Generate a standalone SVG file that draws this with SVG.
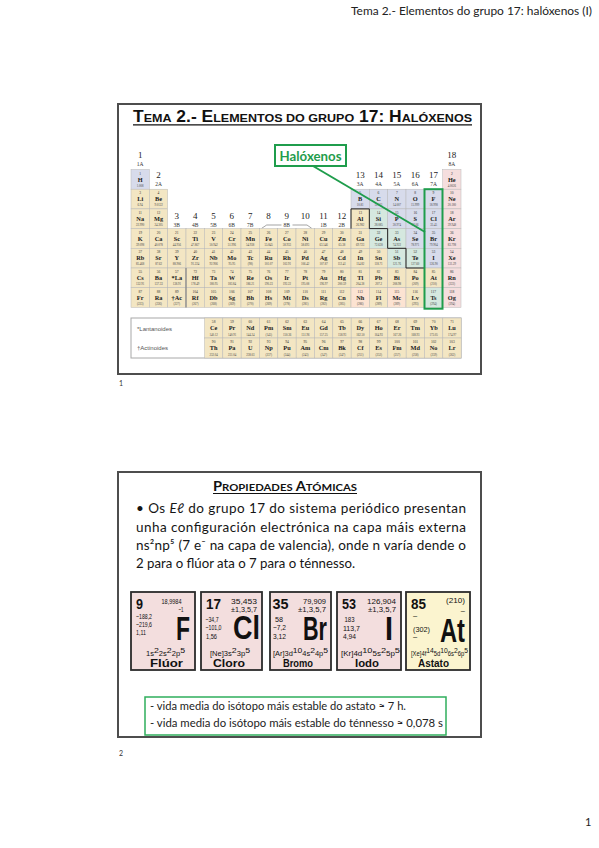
<svg xmlns="http://www.w3.org/2000/svg" width="599" height="848" viewBox="0 0 599 848">
<style>
.fr{fill:#fff;stroke:#4d4d4d;stroke-width:2}
.t,.b,.g,.p,.o{stroke:#b8b8b8;stroke-width:.5}
.t{fill:#f3e6c3}.b{fill:#d7dbeb}.g{fill:#d5e8df}.p{fill:#f5dede}.o{fill:#fce3d2}
.n{font:3.6px "Liberation Serif",serif;text-anchor:middle;fill:#333}
.s{font:bold 6.3px "Liberation Serif",serif;text-anchor:middle;fill:#1a1a1a}
.m{font:3px "Liberation Serif",serif;text-anchor:middle;fill:#444}
.gn{font:9px "Liberation Serif",serif;text-anchor:middle;fill:#222}
.gl{font:5.5px "Liberation Serif",serif;text-anchor:middle;fill:#333}
.lab{font:6px "Liberation Sans",sans-serif;fill:#555}
.hdr{font:11px Lato,"Liberation Sans",sans-serif;fill:#222}
.bt{font:13.5px Lato,"Liberation Sans",sans-serif;fill:#151515}
.gr{fill:none;stroke:#1f9d4c;stroke-width:2}
.card{stroke:#2b2b2b;stroke-width:1.8}
.cz{font:bold 14px "Liberation Sans",sans-serif;fill:#111}
.cm{font:7.5px "Liberation Sans",sans-serif;fill:#111;text-anchor:end}
.cl{font:7.5px "Liberation Sans",sans-serif;fill:#111}
.cs{font:bold 33px "Liberation Sans",sans-serif;fill:#111}
.ce{font:6.5px "Liberation Sans",sans-serif;fill:#111}
.sp{font-size:7.5px}
.cn{font:bold 10px "Liberation Sans",sans-serif;fill:#111;text-anchor:middle}
.nt{font:11.5px Lato,"Liberation Sans",sans-serif;fill:#222}
.pg{font:7px Lato,"Liberation Sans",sans-serif;fill:#333}
</style>
<rect width="599" height="848" fill="#fff"/>
<text class="hdr" x="351" y="15" textLength="241" lengthAdjust="spacingAndGlyphs">Tema 2.- Elementos do grupo 17: halóxenos (I)</text>

<g id="slide1">
<rect class="fr" x="118" y="104" width="363" height="270"/>
<text x="133" y="122" textLength="339" lengthAdjust="spacingAndGlyphs" style="font:bold 16px 'Liberation Sans',sans-serif;fill:#111">T<tspan font-size="11.5">EMA</tspan> 2.- E<tspan font-size="11.5">LEMENTOS DO GRUPO</tspan> 17: H<tspan font-size="11.5">ALÓXENOS</tspan></text>
<line x1="133" y1="124.8" x2="472" y2="124.8" stroke="#111" stroke-width="1.3"/>

<g id="group-labels">
<text class="gn" x="140.2" y="157.5">1</text><text class="gl" x="140.2" y="166">1A</text>
<text class="gn" x="158.5" y="177.5">2</text><text class="gl" x="158.5" y="186">2A</text>
<text class="gn" x="176.8" y="219">3</text><text class="gl" x="176.8" y="226.5">3B</text>
<text class="gn" x="195.2" y="219">4</text><text class="gl" x="195.2" y="226.5">4B</text>
<text class="gn" x="213.5" y="219">5</text><text class="gl" x="213.5" y="226.5">5B</text>
<text class="gn" x="231.8" y="219">6</text><text class="gl" x="231.8" y="226.5">6B</text>
<text class="gn" x="250.2" y="219">7</text><text class="gl" x="250.2" y="226.5">7B</text>
<text class="gn" x="268.5" y="219">8</text>
<text class="gn" x="286.8" y="219">9</text><text class="gl" x="286.8" y="226.5">8B</text>
<text class="gn" x="305.2" y="219">10</text>
<path d="M261.7,228.3 L266.7,225 H281.5 M292.5,225 H307 L311.7,228.3" fill="none" stroke="#666" stroke-width=".6"/>
<text class="gn" x="323.5" y="219">11</text><text class="gl" x="323.5" y="226.5">1B</text>
<text class="gn" x="341.8" y="219">12</text><text class="gl" x="341.8" y="226.5">2B</text>
<text class="gn" x="360.2" y="177.5">13</text><text class="gl" x="360.2" y="186">3A</text>
<text class="gn" x="378.5" y="177.5">14</text><text class="gl" x="378.5" y="186">4A</text>
<text class="gn" x="396.8" y="177.5">15</text><text class="gl" x="396.8" y="186">5A</text>
<text class="gn" x="415.2" y="177.5">16</text><text class="gl" x="415.2" y="186">6A</text>
<text class="gn" x="433.5" y="177.5">17</text><text class="gl" x="433.5" y="186">7A</text>
<text class="gn" x="451.8" y="157.5">18</text><text class="gl" x="451.8" y="166">8A</text>
</g>

<g id="period1" transform="translate(0,169.5)">
<rect class="b" x="131" width="18.33" height="19.7"/><text class="n" x="140.2" y="5.2">1</text><text class="s" x="140.2" y="12">H</text><text class="m" x="140.2" y="17.2">1.008</text>
<rect class="p" x="442.67" width="18.33" height="19.7"/><text class="n" x="451.8" y="5.2">2</text><text class="s" x="451.8" y="12">He</text><text class="m" x="451.8" y="17.2">4.0026</text>
</g>
<g id="period2" transform="translate(0,189.2)">
<rect class="t" x="131" width="18.33" height="19.7"/><text class="n" x="140.2" y="5.2">3</text><text class="s" x="140.2" y="12">Li</text><text class="m" x="140.2" y="17.2">6.94</text>
<rect class="t" x="149.33" width="18.33" height="19.7"/><text class="n" x="158.5" y="5.2">4</text><text class="s" x="158.5" y="12">Be</text><text class="m" x="158.5" y="17.2">9.0122</text>
<rect class="b" x="351" width="18.33" height="19.7"/><text class="n" x="360.2" y="5.2">5</text><text class="s" x="360.2" y="12">B</text><text class="m" x="360.2" y="17.2">10.81</text>
<rect class="b" x="369.33" width="18.33" height="19.7"/><text class="n" x="378.5" y="5.2">6</text><text class="s" x="378.5" y="12">C</text><text class="m" x="378.5" y="17.2">12.011</text>
<rect class="b" x="387.67" width="18.33" height="19.7"/><text class="n" x="396.8" y="5.2">7</text><text class="s" x="396.8" y="12">N</text><text class="m" x="396.8" y="17.2">14.007</text>
<rect class="b" x="406" width="18.33" height="19.7"/><text class="n" x="415.2" y="5.2">8</text><text class="s" x="415.2" y="12">O</text><text class="m" x="415.2" y="17.2">15.999</text>
<rect class="b" x="424.33" width="18.33" height="19.7"/><text class="n" x="433.5" y="5.2">9</text><text class="s" x="433.5" y="12">F</text><text class="m" x="433.5" y="17.2">18.998</text>
<rect class="p" x="442.67" width="18.33" height="19.7"/><text class="n" x="451.8" y="5.2">10</text><text class="s" x="451.8" y="12">Ne</text><text class="m" x="451.8" y="17.2">20.180</text>
</g>
<g id="period3" transform="translate(0,208.9)">
<rect class="t" x="131" width="18.33" height="19.7"/><text class="n" x="140.2" y="5.2">11</text><text class="s" x="140.2" y="12">Na</text><text class="m" x="140.2" y="17.2">22.990</text>
<rect class="t" x="149.33" width="18.33" height="19.7"/><text class="n" x="158.5" y="5.2">12</text><text class="s" x="158.5" y="12">Mg</text><text class="m" x="158.5" y="17.2">24.305</text>
<rect class="t" x="351" width="18.33" height="19.7"/><text class="n" x="360.2" y="5.2">13</text><text class="s" x="360.2" y="12">Al</text><text class="m" x="360.2" y="17.2">26.982</text>
<rect class="g" x="369.33" width="18.33" height="19.7"/><text class="n" x="378.5" y="5.2">14</text><text class="s" x="378.5" y="12">Si</text><text class="m" x="378.5" y="17.2">28.085</text>
<rect class="b" x="387.67" width="18.33" height="19.7"/><text class="n" x="396.8" y="5.2">15</text><text class="s" x="396.8" y="12">P</text><text class="m" x="396.8" y="17.2">30.974</text>
<rect class="b" x="406" width="18.33" height="19.7"/><text class="n" x="415.2" y="5.2">16</text><text class="s" x="415.2" y="12">S</text><text class="m" x="415.2" y="17.2">32.06</text>
<rect class="b" x="424.33" width="18.33" height="19.7"/><text class="n" x="433.5" y="5.2">17</text><text class="s" x="433.5" y="12">Cl</text><text class="m" x="433.5" y="17.2">35.45</text>
<rect class="p" x="442.67" width="18.33" height="19.7"/><text class="n" x="451.8" y="5.2">18</text><text class="s" x="451.8" y="12">Ar</text><text class="m" x="451.8" y="17.2">39.948</text>
</g>
<g id="period4" transform="translate(0,228.6)">
<rect class="t" x="131" width="18.33" height="19.7"/><text class="n" x="140.2" y="5.2">19</text><text class="s" x="140.2" y="12">K</text><text class="m" x="140.2" y="17.2">39.098</text>
<rect class="t" x="149.33" width="18.33" height="19.7"/><text class="n" x="158.5" y="5.2">20</text><text class="s" x="158.5" y="12">Ca</text><text class="m" x="158.5" y="17.2">40.078</text>
<rect class="t" x="167.67" width="18.33" height="19.7"/><text class="n" x="176.8" y="5.2">21</text><text class="s" x="176.8" y="12">Sc</text><text class="m" x="176.8" y="17.2">44.956</text>
<rect class="t" x="186" width="18.33" height="19.7"/><text class="n" x="195.2" y="5.2">22</text><text class="s" x="195.2" y="12">Ti</text><text class="m" x="195.2" y="17.2">47.867</text>
<rect class="t" x="204.33" width="18.33" height="19.7"/><text class="n" x="213.5" y="5.2">23</text><text class="s" x="213.5" y="12">V</text><text class="m" x="213.5" y="17.2">50.942</text>
<rect class="t" x="222.67" width="18.33" height="19.7"/><text class="n" x="231.8" y="5.2">24</text><text class="s" x="231.8" y="12">Cr</text><text class="m" x="231.8" y="17.2">51.996</text>
<rect class="t" x="241" width="18.33" height="19.7"/><text class="n" x="250.2" y="5.2">25</text><text class="s" x="250.2" y="12">Mn</text><text class="m" x="250.2" y="17.2">54.938</text>
<rect class="t" x="259.33" width="18.33" height="19.7"/><text class="n" x="268.5" y="5.2">26</text><text class="s" x="268.5" y="12">Fe</text><text class="m" x="268.5" y="17.2">55.845</text>
<rect class="t" x="277.67" width="18.33" height="19.7"/><text class="n" x="286.8" y="5.2">27</text><text class="s" x="286.8" y="12">Co</text><text class="m" x="286.8" y="17.2">58.933</text>
<rect class="t" x="296" width="18.33" height="19.7"/><text class="n" x="305.2" y="5.2">28</text><text class="s" x="305.2" y="12">Ni</text><text class="m" x="305.2" y="17.2">58.693</text>
<rect class="t" x="314.33" width="18.33" height="19.7"/><text class="n" x="323.5" y="5.2">29</text><text class="s" x="323.5" y="12">Cu</text><text class="m" x="323.5" y="17.2">63.546</text>
<rect class="t" x="332.67" width="18.33" height="19.7"/><text class="n" x="341.8" y="5.2">30</text><text class="s" x="341.8" y="12">Zn</text><text class="m" x="341.8" y="17.2">65.38</text>
<rect class="t" x="351" width="18.33" height="19.7"/><text class="n" x="360.2" y="5.2">31</text><text class="s" x="360.2" y="12">Ga</text><text class="m" x="360.2" y="17.2">69.723</text>
<rect class="g" x="369.33" width="18.33" height="19.7"/><text class="n" x="378.5" y="5.2">32</text><text class="s" x="378.5" y="12">Ge</text><text class="m" x="378.5" y="17.2">72.630</text>
<rect class="g" x="387.67" width="18.33" height="19.7"/><text class="n" x="396.8" y="5.2">33</text><text class="s" x="396.8" y="12">As</text><text class="m" x="396.8" y="17.2">74.922</text>
<rect class="b" x="406" width="18.33" height="19.7"/><text class="n" x="415.2" y="5.2">34</text><text class="s" x="415.2" y="12">Se</text><text class="m" x="415.2" y="17.2">78.971</text>
<rect class="b" x="424.33" width="18.33" height="19.7"/><text class="n" x="433.5" y="5.2">35</text><text class="s" x="433.5" y="12">Br</text><text class="m" x="433.5" y="17.2">79.904</text>
<rect class="p" x="442.67" width="18.33" height="19.7"/><text class="n" x="451.8" y="5.2">36</text><text class="s" x="451.8" y="12">Kr</text><text class="m" x="451.8" y="17.2">83.798</text>
</g>
<g id="period5" transform="translate(0,248.3)">
<rect class="t" x="131" width="18.33" height="19.7"/><text class="n" x="140.2" y="5.2">37</text><text class="s" x="140.2" y="12">Rb</text><text class="m" x="140.2" y="17.2">85.468</text>
<rect class="t" x="149.33" width="18.33" height="19.7"/><text class="n" x="158.5" y="5.2">38</text><text class="s" x="158.5" y="12">Sr</text><text class="m" x="158.5" y="17.2">87.62</text>
<rect class="t" x="167.67" width="18.33" height="19.7"/><text class="n" x="176.8" y="5.2">39</text><text class="s" x="176.8" y="12">Y</text><text class="m" x="176.8" y="17.2">88.906</text>
<rect class="t" x="186" width="18.33" height="19.7"/><text class="n" x="195.2" y="5.2">40</text><text class="s" x="195.2" y="12">Zr</text><text class="m" x="195.2" y="17.2">91.224</text>
<rect class="t" x="204.33" width="18.33" height="19.7"/><text class="n" x="213.5" y="5.2">41</text><text class="s" x="213.5" y="12">Nb</text><text class="m" x="213.5" y="17.2">92.906</text>
<rect class="t" x="222.67" width="18.33" height="19.7"/><text class="n" x="231.8" y="5.2">42</text><text class="s" x="231.8" y="12">Mo</text><text class="m" x="231.8" y="17.2">95.95</text>
<rect class="t" x="241" width="18.33" height="19.7"/><text class="n" x="250.2" y="5.2">43</text><text class="s" x="250.2" y="12">Tc</text><text class="m" x="250.2" y="17.2">(98)</text>
<rect class="t" x="259.33" width="18.33" height="19.7"/><text class="n" x="268.5" y="5.2">44</text><text class="s" x="268.5" y="12">Ru</text><text class="m" x="268.5" y="17.2">101.07</text>
<rect class="t" x="277.67" width="18.33" height="19.7"/><text class="n" x="286.8" y="5.2">45</text><text class="s" x="286.8" y="12">Rh</text><text class="m" x="286.8" y="17.2">102.91</text>
<rect class="t" x="296" width="18.33" height="19.7"/><text class="n" x="305.2" y="5.2">46</text><text class="s" x="305.2" y="12">Pd</text><text class="m" x="305.2" y="17.2">106.42</text>
<rect class="t" x="314.33" width="18.33" height="19.7"/><text class="n" x="323.5" y="5.2">47</text><text class="s" x="323.5" y="12">Ag</text><text class="m" x="323.5" y="17.2">107.87</text>
<rect class="t" x="332.67" width="18.33" height="19.7"/><text class="n" x="341.8" y="5.2">48</text><text class="s" x="341.8" y="12">Cd</text><text class="m" x="341.8" y="17.2">112.41</text>
<rect class="t" x="351" width="18.33" height="19.7"/><text class="n" x="360.2" y="5.2">49</text><text class="s" x="360.2" y="12">In</text><text class="m" x="360.2" y="17.2">114.82</text>
<rect class="t" x="369.33" width="18.33" height="19.7"/><text class="n" x="378.5" y="5.2">50</text><text class="s" x="378.5" y="12">Sn</text><text class="m" x="378.5" y="17.2">118.71</text>
<rect class="g" x="387.67" width="18.33" height="19.7"/><text class="n" x="396.8" y="5.2">51</text><text class="s" x="396.8" y="12">Sb</text><text class="m" x="396.8" y="17.2">121.76</text>
<rect class="g" x="406" width="18.33" height="19.7"/><text class="n" x="415.2" y="5.2">52</text><text class="s" x="415.2" y="12">Te</text><text class="m" x="415.2" y="17.2">127.60</text>
<rect class="b" x="424.33" width="18.33" height="19.7"/><text class="n" x="433.5" y="5.2">53</text><text class="s" x="433.5" y="12">I</text><text class="m" x="433.5" y="17.2">126.90</text>
<rect class="p" x="442.67" width="18.33" height="19.7"/><text class="n" x="451.8" y="5.2">54</text><text class="s" x="451.8" y="12">Xe</text><text class="m" x="451.8" y="17.2">131.29</text>
</g>
<g id="period6" transform="translate(0,268)">
<rect class="t" x="131" width="18.33" height="19.7"/><text class="n" x="140.2" y="5.2">55</text><text class="s" x="140.2" y="12">Cs</text><text class="m" x="140.2" y="17.2">132.91</text>
<rect class="t" x="149.33" width="18.33" height="19.7"/><text class="n" x="158.5" y="5.2">56</text><text class="s" x="158.5" y="12">Ba</text><text class="m" x="158.5" y="17.2">137.33</text>
<rect class="t" x="167.67" width="18.33" height="19.7"/><text class="n" x="176.8" y="5.2">57</text><text class="s" x="176.8" y="12">*La</text><text class="m" x="176.8" y="17.2">138.91</text>
<rect class="t" x="186" width="18.33" height="19.7"/><text class="n" x="195.2" y="5.2">72</text><text class="s" x="195.2" y="12">Hf</text><text class="m" x="195.2" y="17.2">178.49</text>
<rect class="t" x="204.33" width="18.33" height="19.7"/><text class="n" x="213.5" y="5.2">73</text><text class="s" x="213.5" y="12">Ta</text><text class="m" x="213.5" y="17.2">180.95</text>
<rect class="t" x="222.67" width="18.33" height="19.7"/><text class="n" x="231.8" y="5.2">74</text><text class="s" x="231.8" y="12">W</text><text class="m" x="231.8" y="17.2">183.84</text>
<rect class="t" x="241" width="18.33" height="19.7"/><text class="n" x="250.2" y="5.2">75</text><text class="s" x="250.2" y="12">Re</text><text class="m" x="250.2" y="17.2">186.21</text>
<rect class="t" x="259.33" width="18.33" height="19.7"/><text class="n" x="268.5" y="5.2">76</text><text class="s" x="268.5" y="12">Os</text><text class="m" x="268.5" y="17.2">190.23</text>
<rect class="t" x="277.67" width="18.33" height="19.7"/><text class="n" x="286.8" y="5.2">77</text><text class="s" x="286.8" y="12">Ir</text><text class="m" x="286.8" y="17.2">192.22</text>
<rect class="t" x="296" width="18.33" height="19.7"/><text class="n" x="305.2" y="5.2">78</text><text class="s" x="305.2" y="12">Pt</text><text class="m" x="305.2" y="17.2">195.08</text>
<rect class="t" x="314.33" width="18.33" height="19.7"/><text class="n" x="323.5" y="5.2">79</text><text class="s" x="323.5" y="12">Au</text><text class="m" x="323.5" y="17.2">196.97</text>
<rect class="t" x="332.67" width="18.33" height="19.7"/><text class="n" x="341.8" y="5.2">80</text><text class="s" x="341.8" y="12">Hg</text><text class="m" x="341.8" y="17.2">200.59</text>
<rect class="t" x="351" width="18.33" height="19.7"/><text class="n" x="360.2" y="5.2">81</text><text class="s" x="360.2" y="12">Tl</text><text class="m" x="360.2" y="17.2">204.38</text>
<rect class="t" x="369.33" width="18.33" height="19.7"/><text class="n" x="378.5" y="5.2">82</text><text class="s" x="378.5" y="12">Pb</text><text class="m" x="378.5" y="17.2">207.2</text>
<rect class="t" x="387.67" width="18.33" height="19.7"/><text class="n" x="396.8" y="5.2">83</text><text class="s" x="396.8" y="12">Bi</text><text class="m" x="396.8" y="17.2">208.98</text>
<rect class="t" x="406" width="18.33" height="19.7"/><text class="n" x="415.2" y="5.2">84</text><text class="s" x="415.2" y="12">Po</text><text class="m" x="415.2" y="17.2">(209)</text>
<rect class="t" x="424.33" width="18.33" height="19.7"/><text class="n" x="433.5" y="5.2">85</text><text class="s" x="433.5" y="12">At</text><text class="m" x="433.5" y="17.2">(210)</text>
<rect class="p" x="442.67" width="18.33" height="19.7"/><text class="n" x="451.8" y="5.2">86</text><text class="s" x="451.8" y="12">Rn</text><text class="m" x="451.8" y="17.2">(222)</text>
</g>
<g id="period7" transform="translate(0,287.7)">
<rect class="t" x="131" width="18.33" height="19.7"/><text class="n" x="140.2" y="5.2">87</text><text class="s" x="140.2" y="12">Fr</text><text class="m" x="140.2" y="17.2">(223)</text>
<rect class="t" x="149.33" width="18.33" height="19.7"/><text class="n" x="158.5" y="5.2">88</text><text class="s" x="158.5" y="12">Ra</text><text class="m" x="158.5" y="17.2">(226)</text>
<rect class="t" x="167.67" width="18.33" height="19.7"/><text class="n" x="176.8" y="5.2">89</text><text class="s" x="176.8" y="12">†Ac</text><text class="m" x="176.8" y="17.2">(227)</text>
<rect class="t" x="186" width="18.33" height="19.7"/><text class="n" x="195.2" y="5.2">104</text><text class="s" x="195.2" y="12">Rf</text><text class="m" x="195.2" y="17.2">(267)</text>
<rect class="t" x="204.33" width="18.33" height="19.7"/><text class="n" x="213.5" y="5.2">105</text><text class="s" x="213.5" y="12">Db</text><text class="m" x="213.5" y="17.2">(268)</text>
<rect class="t" x="222.67" width="18.33" height="19.7"/><text class="n" x="231.8" y="5.2">106</text><text class="s" x="231.8" y="12">Sg</text><text class="m" x="231.8" y="17.2">(269)</text>
<rect class="t" x="241" width="18.33" height="19.7"/><text class="n" x="250.2" y="5.2">107</text><text class="s" x="250.2" y="12">Bh</text><text class="m" x="250.2" y="17.2">(270)</text>
<rect class="t" x="259.33" width="18.33" height="19.7"/><text class="n" x="268.5" y="5.2">108</text><text class="s" x="268.5" y="12">Hs</text><text class="m" x="268.5" y="17.2">(269)</text>
<rect class="t" x="277.67" width="18.33" height="19.7"/><text class="n" x="286.8" y="5.2">109</text><text class="s" x="286.8" y="12">Mt</text><text class="m" x="286.8" y="17.2">(278)</text>
<rect class="t" x="296" width="18.33" height="19.7"/><text class="n" x="305.2" y="5.2">110</text><text class="s" x="305.2" y="12">Ds</text><text class="m" x="305.2" y="17.2">(281)</text>
<rect class="t" x="314.33" width="18.33" height="19.7"/><text class="n" x="323.5" y="5.2">111</text><text class="s" x="323.5" y="12">Rg</text><text class="m" x="323.5" y="17.2">(282)</text>
<rect class="t" x="332.67" width="18.33" height="19.7"/><text class="n" x="341.8" y="5.2">112</text><text class="s" x="341.8" y="12">Cn</text><text class="m" x="341.8" y="17.2">(285)</text>
<rect class="o" x="351" width="18.33" height="19.7"/><text class="n" x="360.2" y="5.2">113</text><text class="s" x="360.2" y="12">Nh</text><text class="m" x="360.2" y="17.2">(286)</text>
<rect class="t" x="369.33" width="18.33" height="19.7"/><text class="n" x="378.5" y="5.2">114</text><text class="s" x="378.5" y="12">Fl</text><text class="m" x="378.5" y="17.2">(289)</text>
<rect class="o" x="387.67" width="18.33" height="19.7"/><text class="n" x="396.8" y="5.2">115</text><text class="s" x="396.8" y="12">Mc</text><text class="m" x="396.8" y="17.2">(289)</text>
<rect class="t" x="406" width="18.33" height="19.7"/><text class="n" x="415.2" y="5.2">116</text><text class="s" x="415.2" y="12">Lv</text><text class="m" x="415.2" y="17.2">(293)</text>
<rect class="g" x="424.33" width="18.33" height="19.7"/><text class="n" x="433.5" y="5.2">117</text><text class="s" x="433.5" y="12">Ts</text><text class="m" x="433.5" y="17.2">(294)</text>
<rect class="p" x="442.67" width="18.33" height="19.7"/><text class="n" x="451.8" y="5.2">118</text><text class="s" x="451.8" y="12">Og</text><text class="m" x="451.8" y="17.2">(294)</text>
</g>
<path d="M351,228.6 V208.9 H369.33 V228.6 H387.67 V248.3 H406 V268 H424.33" fill="none" stroke="#222" stroke-width="1"/>
<line x1="186" y1="268" x2="186" y2="307.4" stroke="#8a8a8a" stroke-width="1.3"/>

<g id="f-block">
<rect x="131" y="318" width="330" height="40" fill="#fff" stroke="#a8a8a8" stroke-width="1"/>
<text class="lab" x="137" y="331">*Lantanoides</text>
<text class="lab" x="137" y="349.5">†Actinoides</text>
<g transform="translate(0,318)">
<rect class="t" x="204.5" width="18.33" height="20"/><text class="n" x="213.67" y="5.3">58</text><text class="s" x="213.67" y="12.2">Ce</text><text class="m" x="213.67" y="17.5">140.12</text>
<rect class="t" x="222.83" width="18.33" height="20"/><text class="n" x="232" y="5.3">59</text><text class="s" x="232" y="12.2">Pr</text><text class="m" x="232" y="17.5">140.91</text>
<rect class="t" x="241.17" width="18.33" height="20"/><text class="n" x="250.33" y="5.3">60</text><text class="s" x="250.33" y="12.2">Nd</text><text class="m" x="250.33" y="17.5">144.24</text>
<rect class="t" x="259.5" width="18.33" height="20"/><text class="n" x="268.67" y="5.3">61</text><text class="s" x="268.67" y="12.2">Pm</text><text class="m" x="268.67" y="17.5">(145)</text>
<rect class="t" x="277.83" width="18.33" height="20"/><text class="n" x="287" y="5.3">62</text><text class="s" x="287" y="12.2">Sm</text><text class="m" x="287" y="17.5">150.36</text>
<rect class="t" x="296.17" width="18.33" height="20"/><text class="n" x="305.33" y="5.3">63</text><text class="s" x="305.33" y="12.2">Eu</text><text class="m" x="305.33" y="17.5">151.96</text>
<rect class="t" x="314.5" width="18.33" height="20"/><text class="n" x="323.67" y="5.3">64</text><text class="s" x="323.67" y="12.2">Gd</text><text class="m" x="323.67" y="17.5">157.25</text>
<rect class="t" x="332.83" width="18.33" height="20"/><text class="n" x="342" y="5.3">65</text><text class="s" x="342" y="12.2">Tb</text><text class="m" x="342" y="17.5">158.93</text>
<rect class="t" x="351.17" width="18.33" height="20"/><text class="n" x="360.33" y="5.3">66</text><text class="s" x="360.33" y="12.2">Dy</text><text class="m" x="360.33" y="17.5">162.50</text>
<rect class="t" x="369.5" width="18.33" height="20"/><text class="n" x="378.67" y="5.3">67</text><text class="s" x="378.67" y="12.2">Ho</text><text class="m" x="378.67" y="17.5">164.93</text>
<rect class="t" x="387.83" width="18.33" height="20"/><text class="n" x="397" y="5.3">68</text><text class="s" x="397" y="12.2">Er</text><text class="m" x="397" y="17.5">167.26</text>
<rect class="t" x="406.17" width="18.33" height="20"/><text class="n" x="415.33" y="5.3">69</text><text class="s" x="415.33" y="12.2">Tm</text><text class="m" x="415.33" y="17.5">168.93</text>
<rect class="t" x="424.5" width="18.33" height="20"/><text class="n" x="433.67" y="5.3">70</text><text class="s" x="433.67" y="12.2">Yb</text><text class="m" x="433.67" y="17.5">173.05</text>
<rect class="t" x="442.83" width="18.33" height="20"/><text class="n" x="452" y="5.3">71</text><text class="s" x="452" y="12.2">Lu</text><text class="m" x="452" y="17.5">174.97</text>
</g>
<g transform="translate(0,338)">
<rect class="t" x="204.5" width="18.33" height="20"/><text class="n" x="213.67" y="5.3">90</text><text class="s" x="213.67" y="12.2">Th</text><text class="m" x="213.67" y="17.5">232.04</text>
<rect class="t" x="222.83" width="18.33" height="20"/><text class="n" x="232" y="5.3">91</text><text class="s" x="232" y="12.2">Pa</text><text class="m" x="232" y="17.5">231.04</text>
<rect class="t" x="241.17" width="18.33" height="20"/><text class="n" x="250.33" y="5.3">92</text><text class="s" x="250.33" y="12.2">U</text><text class="m" x="250.33" y="17.5">238.03</text>
<rect class="t" x="259.5" width="18.33" height="20"/><text class="n" x="268.67" y="5.3">93</text><text class="s" x="268.67" y="12.2">Np</text><text class="m" x="268.67" y="17.5">(237)</text>
<rect class="t" x="277.83" width="18.33" height="20"/><text class="n" x="287" y="5.3">94</text><text class="s" x="287" y="12.2">Pu</text><text class="m" x="287" y="17.5">(244)</text>
<rect class="t" x="296.17" width="18.33" height="20"/><text class="n" x="305.33" y="5.3">95</text><text class="s" x="305.33" y="12.2">Am</text><text class="m" x="305.33" y="17.5">(243)</text>
<rect class="t" x="314.5" width="18.33" height="20"/><text class="n" x="323.67" y="5.3">96</text><text class="s" x="323.67" y="12.2">Cm</text><text class="m" x="323.67" y="17.5">(247)</text>
<rect class="t" x="332.83" width="18.33" height="20"/><text class="n" x="342" y="5.3">97</text><text class="s" x="342" y="12.2">Bk</text><text class="m" x="342" y="17.5">(247)</text>
<rect class="t" x="351.17" width="18.33" height="20"/><text class="n" x="360.33" y="5.3">98</text><text class="s" x="360.33" y="12.2">Cf</text><text class="m" x="360.33" y="17.5">(251)</text>
<rect class="t" x="369.5" width="18.33" height="20"/><text class="n" x="378.67" y="5.3">99</text><text class="s" x="378.67" y="12.2">Es</text><text class="m" x="378.67" y="17.5">(252)</text>
<rect class="t" x="387.83" width="18.33" height="20"/><text class="n" x="397" y="5.3">100</text><text class="s" x="397" y="12.2">Fm</text><text class="m" x="397" y="17.5">(257)</text>
<rect class="t" x="406.17" width="18.33" height="20"/><text class="n" x="415.33" y="5.3">101</text><text class="s" x="415.33" y="12.2">Md</text><text class="m" x="415.33" y="17.5">(258)</text>
<rect class="t" x="424.5" width="18.33" height="20"/><text class="n" x="433.67" y="5.3">102</text><text class="s" x="433.67" y="12.2">No</text><text class="m" x="433.67" y="17.5">(259)</text>
<rect class="t" x="442.83" width="18.33" height="20"/><text class="n" x="452" y="5.3">103</text><text class="s" x="452" y="12.2">Lr</text><text class="m" x="452" y="17.5">(262)</text>
</g>
</g>

<rect id="halogen-column" class="gr" x="424.5" y="189.2" width="18" height="119.5"/>
<g id="connectors"><line x1="313" y1="166" x2="425" y2="232" stroke="#1f9d4c" stroke-width="2"/></g>
<g id="halogen-label">
<rect x="275" y="145" width="71" height="21" fill="#fff" stroke="#1f9d4c" stroke-width="2"/>
<text x="310.5" y="160.5" text-anchor="middle" textLength="62" lengthAdjust="spacingAndGlyphs" style="font:bold 13px Lato,'Liberation Sans',sans-serif;fill:#1f9d4c">Halóxenos</text>
</g>
</g>
<text class="pg" x="119" y="386">1</text>

<g id="slide2">
<rect class="fr" x="118" y="472" width="363" height="265"/>
<text x="213" y="490.5" textLength="144" lengthAdjust="spacingAndGlyphs" style="font:bold 13px Lato,'Liberation Sans',sans-serif;fill:#111">P<tspan font-size="10">ROPIEDADES</tspan> A<tspan font-size="10">TÓMICAS</tspan></text>
<line x1="213" y1="493.5" x2="357" y2="493.5" stroke="#111" stroke-width="1"/>
<text class="bt" x="136" y="513" textLength="330" lengthAdjust="spacing">• Os <tspan font-style="italic">Eℓ</tspan> do grupo 17 do sistema periódico presentan</text>
<text class="bt" x="136" y="531.5" textLength="330" lengthAdjust="spacing">unha configuración electrónica na capa máis externa</text>
<text class="bt" x="136" y="550" textLength="330" lengthAdjust="spacing">ns²np⁵ (7 e⁻ na capa de valencia), onde n varía dende o</text>
<text class="bt" x="136" y="568" textLength="219" lengthAdjust="spacingAndGlyphs">2 para o flúor ata o 7 para o ténnesso.</text>

<g id="card-F">
<rect class="card" x="131" y="592" width="64" height="78" fill="#f3dede"/>
<text class="cz" x="136" y="609" textLength="7" lengthAdjust="spacingAndGlyphs">9</text>
<text class="cm" x="181.5" y="604" textLength="20" lengthAdjust="spacingAndGlyphs">18,9984</text>
<text class="cm" x="183.5" y="611.5" textLength="5" lengthAdjust="spacingAndGlyphs">−1</text>
<text class="cl" x="136" y="619" textLength="16" lengthAdjust="spacingAndGlyphs">−188,2</text>
<text class="cl" x="136" y="627" textLength="16" lengthAdjust="spacingAndGlyphs">−219,6</text>
<text class="cl" x="136" y="634.5" textLength="10" lengthAdjust="spacingAndGlyphs">1,11</text>
<text class="cs" x="176" y="640" textLength="14" lengthAdjust="spacingAndGlyphs">F</text>
<text class="ce" x="146" y="656" textLength="39" lengthAdjust="spacingAndGlyphs">1s<tspan class="sp" dy="-3">2</tspan><tspan dy="3">2s</tspan><tspan class="sp" dy="-3">2</tspan><tspan dy="3">2p</tspan><tspan class="sp" dy="-3">5</tspan></text>
<text class="cn" x="166.5" y="666.5" textLength="33" lengthAdjust="spacingAndGlyphs">Flúor</text>
</g>
<g id="card-Cl">
<rect class="card" x="201" y="592" width="61" height="78" fill="#f3dede"/>
<text class="cz" x="206" y="609" textLength="15" lengthAdjust="spacingAndGlyphs">17</text>
<text class="cm" x="257" y="603.5" textLength="26" lengthAdjust="spacingAndGlyphs">35,453</text>
<text class="cm" x="257" y="612" textLength="26" lengthAdjust="spacingAndGlyphs">±1,3,5,7</text>
<text class="cl" x="205.5" y="621.5" textLength="13" lengthAdjust="spacingAndGlyphs">−34,7</text>
<text class="cl" x="205.5" y="630" textLength="16" lengthAdjust="spacingAndGlyphs">−101,0</text>
<text class="cl" x="206" y="638.5" textLength="11" lengthAdjust="spacingAndGlyphs">1,56</text>
<text class="cs" x="233" y="638.5" textLength="27" lengthAdjust="spacingAndGlyphs">Cl</text>
<text class="ce" x="210" y="655.5" textLength="40" lengthAdjust="spacingAndGlyphs">[Ne]3s<tspan class="sp" dy="-3">2</tspan><tspan dy="3">3p</tspan><tspan class="sp" dy="-3">5</tspan></text>
<text class="cn" x="229" y="666.5" textLength="32" lengthAdjust="spacingAndGlyphs">Cloro</text>
</g>
<g id="card-Br">
<rect class="card" x="270" y="592" width="61" height="78" fill="#f3dede"/>
<text class="cz" x="272.5" y="609" textLength="16" lengthAdjust="spacingAndGlyphs">35</text>
<text class="cm" x="326" y="603.5" textLength="23" lengthAdjust="spacingAndGlyphs">79,909</text>
<text class="cm" x="326" y="612" textLength="28" lengthAdjust="spacingAndGlyphs">±1,3,5,7</text>
<text class="cl" x="275" y="621.5" textLength="8" lengthAdjust="spacingAndGlyphs">58</text>
<text class="cl" x="273" y="630" textLength="13" lengthAdjust="spacingAndGlyphs">−7,2</text>
<text class="cl" x="273" y="638.5" textLength="13" lengthAdjust="spacingAndGlyphs">3,12</text>
<text class="cs" x="303" y="640" textLength="24" lengthAdjust="spacingAndGlyphs">Br</text>
<text class="ce" x="273" y="655.5" textLength="55" lengthAdjust="spacingAndGlyphs">[Ar]3d<tspan class="sp" dy="-3">10</tspan><tspan dy="3">4s</tspan><tspan class="sp" dy="-3">2</tspan><tspan dy="3">4p</tspan><tspan class="sp" dy="-3">5</tspan></text>
<text class="cn" x="298" y="666.5" textLength="30" lengthAdjust="spacingAndGlyphs">Bromo</text>
</g>
<g id="card-I">
<rect class="card" x="337" y="592" width="64" height="78" fill="#f3dede"/>
<text class="cz" x="342" y="609" textLength="14" lengthAdjust="spacingAndGlyphs">53</text>
<text class="cm" x="396" y="603.5" textLength="29" lengthAdjust="spacingAndGlyphs">126,904</text>
<text class="cm" x="396" y="612" textLength="28" lengthAdjust="spacingAndGlyphs">±1,3,5,7</text>
<text class="cl" x="344.5" y="622" textLength="10" lengthAdjust="spacingAndGlyphs">183</text>
<text class="cl" x="343" y="631" textLength="17" lengthAdjust="spacingAndGlyphs">113,7</text>
<text class="cl" x="343" y="639" textLength="13" lengthAdjust="spacingAndGlyphs">4,94</text>
<text class="cs" x="385" y="640" textLength="8" lengthAdjust="spacingAndGlyphs">I</text>
<text class="ce" x="341" y="655.5" textLength="59" lengthAdjust="spacingAndGlyphs">[Kr]4d<tspan class="sp" dy="-3">10</tspan><tspan dy="3">5s</tspan><tspan class="sp" dy="-3">2</tspan><tspan dy="3">5p</tspan><tspan class="sp" dy="-3">5</tspan></text>
<text class="cn" x="367" y="667" textLength="24" lengthAdjust="spacingAndGlyphs">Iodo</text>
</g>
<g id="card-At">
<rect class="card" x="406" y="592" width="64" height="78" fill="#fbf4cf"/>
<text class="cz" x="411" y="609" textLength="15" lengthAdjust="spacingAndGlyphs">85</text>
<text class="cm" x="465" y="603" textLength="19" lengthAdjust="spacingAndGlyphs">(210)</text>
<text class="cm" x="465" y="612.5">–</text>
<text class="cl" x="413" y="617.5">–</text>
<text class="cl" x="413" y="632" textLength="17" lengthAdjust="spacingAndGlyphs">(302)</text>
<text class="cl" x="413" y="638.5">–</text>
<text class="cs" x="440" y="642" textLength="25" lengthAdjust="spacingAndGlyphs">At</text>
<text class="ce" x="411" y="656" textLength="57" lengthAdjust="spacingAndGlyphs">[Xe]4f<tspan class="sp" dy="-3">14</tspan><tspan dy="3">5d</tspan><tspan class="sp" dy="-3">10</tspan><tspan dy="3">6s</tspan><tspan class="sp" dy="-3">2</tspan><tspan dy="3">6p</tspan><tspan class="sp" dy="-3">5</tspan></text>
<text class="cn" x="433.5" y="667" textLength="31" lengthAdjust="spacingAndGlyphs">Astato</text>
</g>

<g id="note">
<rect x="145" y="697" width="301" height="38" fill="#fff" stroke="#2fae5c" stroke-width="1.5"/>
<text class="nt" x="150" y="710" textLength="256" lengthAdjust="spacingAndGlyphs">- vida media do isótopo máis estable do astato ≈ 7 h.</text>
<text class="nt" x="150" y="726.5" textLength="293" lengthAdjust="spacingAndGlyphs">- vida media do isótopo máis estable do ténnesso ≈ 0,078 s</text>
</g>
</g>
<text class="pg" x="119" y="756">2</text>
<text x="585" y="826" style="font:11px Lato,'Liberation Sans',sans-serif;fill:#222">1</text>
</svg>
